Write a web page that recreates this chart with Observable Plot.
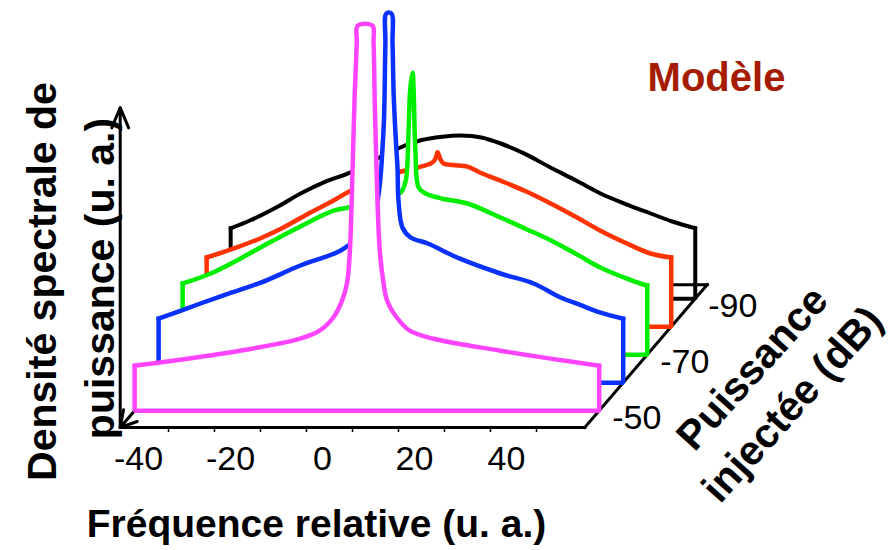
<!DOCTYPE html>
<html>
<head>
<meta charset="utf-8">
<script src="https://cdn.jsdelivr.net/npm/d3@7"></script>
<script src="https://cdn.jsdelivr.net/npm/@observablehq/plot@0.6"></script>
<style>
  body { margin: 0; background: #fff; }
  svg { display: block; }
</style>
</head>
<body>
<div id="chart"></div>
<script>
// Injected power of each spectrum (dB), drawn back to front
const powers = [-90, -80, -70, -60, -50];
const seriesColors = ["#000000", "#ff3300", "#00ee00", "#0a32ff", "#ff44ff"];

// Power spectral density (a.u.) against relative frequency (a.u.)
const freqM90 = [-50.5, -46.2, -40, -35.3, -30, -24.4, -19, -13.6, -9.2, -4.5, -0.5, 4, 8.2, 13.5, 19, 24.5, 29.9, 35.5, 40.8, 45.5, 50.5];
const psdM90  = [17.6, 19.6, 23.2, 26.3, 29.2, 31.6, 34.8, 37.8, 39.6, 40.5, 40.8, 40.3, 38.8, 36.2, 32.8, 29.6, 26.3, 23.6, 21.3, 19.3, 17.6];

const freqM80 = [-50.5, -44.7, -39, -33.8, -28.5, -23, -19.2, -14, -9, -4.7, -1.8, -1.0, -0.6, -0.3, 0.1, 0.5, 1.0, 3, 6.2, 9, 13.4, 19, 24.3, 30, 35.1, 40.5, 46, 50.5];
const psdM80  = [17.3, 19.5, 22, 24.8, 28.2, 31.5, 34, 36.5, 38.5, 39.8, 40.8, 41.5, 42.5, 43.6, 42.5, 41.5, 40.8, 40.4, 40, 38.5, 36.5, 33.8, 30.8, 27.3, 24, 21, 18.3, 17.3];

const freqM70 = [-50.5, -44.4, -38, -32, -25, -17.7, -14.4, -10, -6, -3.1, -2.0, -1.4, -1.0, -0.5, -0.3, 0.1, 0.8, 2.3, 6, 11.4, 18.6, 24, 29.5, 35, 40.3, 45, 49, 50.5];
const psdM70  = [17.8, 20.3, 24, 27.8, 32, 36, 36.8, 38, 39.5, 40.5, 43.5, 55.3, 66.8, 70.5, 66.8, 51, 41.8, 40.3, 39, 37.8, 34.3, 31.5, 28.6, 25.2, 21.8, 19.5, 17.8, 17.3];

const freqM60 = [-50.5, -41.4, -35, -28.3, -19.7, -11, -7, -4.5, -3, -2.3, -2.0, -1.5, -1.2, -1.0, 0.1, 0.35, 0.6, 1.1, 1.43, 1.65, 2.5, 4.3, 8, 15, 23.8, 31, 36.9, 41, 45.6, 50.5];
const psdM60  = [16, 19.8, 22.4, 25, 29.3, 33, 36.5, 40, 45, 51, 55.5, 66, 85, 92.3, 92.3, 85, 72, 60, 53.8, 45.5, 38.8, 36.3, 34.8, 31, 27.3, 24.8, 21.3, 19.5, 17.5, 16];

const freqM50 = [-50.5, -36, -25, -14.5, -10.3, -7.3, -5.4, -4.3, -3.7, -3.3, -2.7, -2.2, -2.0, 1.2, 1.45, 1.7, 2.3, 2.8, 3.6, 4.4, 6.5, 9.3, 14.5, 29, 50.5];
const psdM50  = [11.25, 13.5, 15.5, 18, 20, 23.3, 27.5, 32, 40, 52.5, 77.5, 92, 96.25, 96.25, 92, 77.5, 52.5, 40, 32, 27.5, 23.3, 20, 18, 15, 11.25];

const freqTicks = [-40, -20, 0, 20, 40];
const freqMinorTicks = [-40, -30, -20, -10, 0, 10, 20, 30, 40];
const powerTicks = [-90, -70, -50];

const freqs = [freqM90, freqM80, freqM70, freqM60, freqM50];
const psds = [psdM90, psdM80, psdM70, psdM60, psdM50];

// Oblique projection of the (frequency, power, density) box
const frontPower = -44, backPower = -95;
const fMin = -50.5, fMax = 50.5;
const skewX = 5.22, skewY = 7;            // shift per 10 dB of depth
const depth = p => (frontPower - p) / 10;
const proj = (f, a, p) => ({x: f + depth(p) * skewX, y: a + depth(p) * skewY});

const spectra = powers.map((p, i) => ({p, color: seriesColors[i], f: freqs[i], a: psds[i]}));

// Each spectrum is an opaque plane: white fill, coloured outline
function planeMarks(s) {
  const pts = s.f.map((f, j) => ({...proj(f, s.a[j], s.p), y0: proj(f, 0, s.p).y}));
  const edge = [
    proj(fMin, s.a[0], s.p), proj(fMin, 0, s.p),
    proj(fMax, 0, s.p), proj(fMax, s.a[s.a.length - 1], s.p)
  ];
  const w = s.p === -90 ? 4 : 4.5;
  return [
    Plot.areaY(pts, {x: "x", y1: "y0", y2: "y", fill: "white", curve: "catmull-rom"}),
    Plot.line(edge, {x: "x", y: "y", stroke: s.color, strokeWidth: w, strokeLinecap: "square", strokeLinejoin: "miter"}),
    Plot.line(pts, {x: "x", y: "y", stroke: s.color, strokeWidth: w, curve: "catmull-rom", strokeLinejoin: "round"})
  ];
}

const seg = (a, b) => ({x1: a.x, y1: a.y, x2: b.x, y2: b.y});
const boxEdges = [
  seg(proj(fMin, 0, frontPower), proj(fMax, 0, frontPower)),
  seg(proj(fMax, 0, frontPower), proj(fMax, 0, backPower)),
  seg(proj(fMin, 0, backPower), proj(fMax, 0, backPower))
];
const depthArrow = [seg(proj(fMin, 0, backPower), proj(fMin, 0, frontPower))];
const densityArrow = [seg(proj(fMin, 0, frontPower), proj(fMin, 80, frontPower))];

const font = "Liberation Sans, Arial, Helvetica, sans-serif";
const label = (text, dx, dy, opts = {}) =>
  Plot.text([text], {text: d => d, frameAnchor: "top-left", dx, dy, fontFamily: font,
    fontWeight: "bold", fontSize: 41, fill: "#000", textAnchor: "middle", lineAnchor: "middle", ...opts});

const chart = Plot.plot({
  width: 893,
  height: 550,
  marginLeft: 122,
  marginRight: 311,
  marginTop: 27,
  marginBottom: 123,
  x: {domain: [-50, 50]},
  y: {domain: [0, 100], axis: null},
  style: {fontFamily: font, background: "white", overflow: "visible"},
  marks: [
    ...planeMarks(spectra[0]),
    Plot.link(boxEdges, {x1: "x1", y1: "y1", x2: "x2", y2: "y2", stroke: "black", strokeWidth: 3, strokeLinecap: "square"}),
    Plot.arrow(depthArrow, {x1: "x1", y1: "y1", x2: "x2", y2: "y2", stroke: "black", strokeWidth: 3, headLength: 9}),
    ...planeMarks(spectra[1]),
    ...planeMarks(spectra[2]),
    ...planeMarks(spectra[3]),
    ...planeMarks(spectra[4]),
    Plot.arrow(densityArrow, {x1: "x1", y1: "y1", x2: "x2", y2: "y2", stroke: "black", strokeWidth: 3, headLength: 11, headAngle: 45}),
    Plot.axisX({ticks: freqMinorTicks, tickSize: 5, tickFormat: () => "", label: null, strokeWidth: 1.5}),
    Plot.axisX({ticks: freqTicks, tickSize: 0, tickPadding: 18, tickFormat: d => String(d), label: null,
      fontSize: 34, dx: -30, fill: "#000", fontFamily: font}),
    Plot.text(powerTicks, {x: p => proj(fMax, 0, p).x, y: p => proj(fMax, 0, p).y, text: d => String(d),
      textAnchor: "start", lineAnchor: "middle", dx: 13, dy: 7, fontSize: 34, fontFamily: font, fill: "#000"}),
    label("Fréquence relative (u. a.)", 194, 497, {fontSize: 39}),
    label("Densité spectrale de", -80, 254, {rotate: -90}),
    label("puissance (u. a.)", -22, 251, {rotate: -90}),
    label("Puissance", 630, 341, {rotate: -48}),
    label("injectée (dB)", 670, 377, {rotate: -48}),
    label("Modèle", 594, 51, {fontSize: 40, fill: "#a51c00"})
  ]
});

document.getElementById("chart").appendChild(chart);
</script>
</body>
</html>
